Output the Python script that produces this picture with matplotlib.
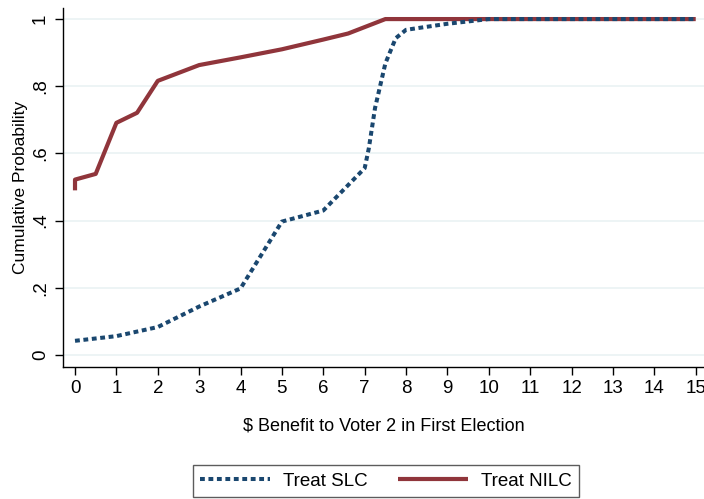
import numpy as np
import matplotlib.pyplot as plt

plt.rcParams['font.family'] = ['Liberation Sans', 'DejaVu Sans']

# values
slc_x = [0, 1, 2, 3, 4, 5, 6, 7, 7.1, 7.25, 7.5, 7.75, 8, 9, 10, 15]
slc_y = [0.042, 0.056, 0.083, 0.144, 0.198, 0.397, 0.430, 0.556, 0.615,
         0.735, 0.868, 0.943, 0.968, 0.986, 1.0, 1.0]

nilc_x = [0, 0, 0.5, 1, 1.5, 2, 3, 4, 5, 6, 6.6, 7.5, 15]
nilc_y = [0.49, 0.522, 0.539, 0.691, 0.721, 0.816, 0.863, 0.886, 0.910,
          0.939, 0.957, 1.0, 1.0]

x_ticks = list(range(0, 16))
y_ticks = [0, 0.2, 0.4, 0.6, 0.8, 1.0]
y_labels = ['0', '.2', '.4', '.6', '.8', '1']

navy = '#1a476f'
maroon = '#90353b'

fig = plt.figure(figsize=(7.04, 4.99), dpi=100)
ax = fig.add_axes([0.0895, 0.2645, 0.9105, 0.7195])

for y in y_ticks:
    ax.axhline(y, color='#eaf2f3', lw=1.2, zorder=0)

ax.plot(slc_x, slc_y, color=navy, lw=2.9, linestyle=(0, (1.2, 0.9)),
        dash_capstyle='butt', label='Treat SLC', zorder=3)
ax.plot(nilc_x, nilc_y, color=maroon, lw=3.0, solid_capstyle='butt',
        label='Treat NILC', zorder=2)

ax.set_xlim(-0.29, 15.2)
ax.set_ylim(-0.036, 1.033)
ax.set_xticks(x_ticks)
ax.set_yticks(y_ticks)
ax.set_yticklabels(y_labels, rotation=90, va='center')
ax.tick_params(axis='both', labelsize=13.5, length=6, width=1, direction='out')
ax.tick_params(axis='x', pad=3)
ax.tick_params(axis='y', pad=4)

for side in ['top', 'right']:
    ax.spines[side].set_visible(False)
ax.spines['left'].set_linewidth(1)
ax.spines['bottom'].set_linewidth(1)

ax.set_xlabel('$ Benefit to Voter 2 in First Election', fontsize=13, labelpad=15)
ax.set_ylabel('Cumulative Probability', fontsize=12.5, labelpad=3)

leg = fig.legend(loc='upper center', bbox_to_anchor=(0.548, 0.068), ncol=2,
                 fontsize=13.5, frameon=True, fancybox=False, handlelength=3.7,
                 handletextpad=0.7, columnspacing=1.65, borderpad=0.4,
                 borderaxespad=0)
leg.get_frame().set_edgecolor('#333333')
leg.get_frame().set_linewidth(1)

fig.savefig('out.png', dpi=100)
